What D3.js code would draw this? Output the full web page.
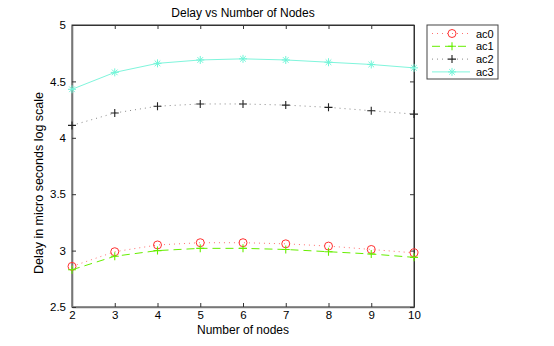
<!DOCTYPE html>
<html>
<head>
<meta charset="utf-8">
<script src="https://cdn.jsdelivr.net/npm/d3@7"></script>
<style>
  body { margin: 0; background: #fff; }
  svg { font-family: "Liberation Sans", Arial, sans-serif; }
</style>
</head>
<body>
<div class="chart"></div>
<script>
// Data
const nodes = [2, 3, 4, 5, 6, 7, 8, 9, 10];
const ac0 = [2.86, 2.99, 3.05, 3.07, 3.07, 3.06, 3.04, 3.01, 2.98];
const ac1 = [2.83, 2.95, 3.00, 3.02, 3.02, 3.01, 2.99, 2.97, 2.94];
const ac2 = [4.11, 4.22, 4.28, 4.30, 4.30, 4.29, 4.27, 4.24, 4.21];
const ac3 = [4.43, 4.58, 4.66, 4.69, 4.70, 4.69, 4.67, 4.65, 4.62];
const seriesNames = ["ac0", "ac1", "ac2", "ac3"];
const yTicks = [2.5, 3, 3.5, 4, 4.5, 5];

const width = 554, height = 346;
const margin = {top: 25, left: 72, right: 140, bottom: 39};

// line colour is a bit lighter than the marker colour for the dotted ones
const series = [
  {name: seriesNames[0], values: ac0, color: "#ff3030", lineColor: "#ff7070", dash: "1,4", marker: "circle"},
  {name: seriesNames[1], values: ac1, color: "#66ee00", lineColor: "#66ee00", dash: "8,5", marker: "plus"},
  {name: seriesNames[2], values: ac2, color: "#222", lineColor: "#888", dash: "1,4", marker: "plus"},
  {name: seriesNames[3], values: ac3, color: "#70f5d8", lineColor: "#80f5dc", dash: null, marker: "star"}
];

const svg = d3.select(".chart").append("svg")
  .attr("width", width).attr("height", height);

const x = d3.scaleLinear().domain([2, 10]).range([margin.left, width - margin.right]);
const y = d3.scaleLinear().domain([2.5, 5]).range([height - margin.bottom, margin.top]);

// box
svg.append("rect")
  .attr("x", x(2)).attr("y", y(5))
  .attr("width", x(10) - x(2)).attr("height", y(2.5) - y(5))
  .attr("fill", "none").attr("stroke", "#333").attr("stroke-width", 1);

// axes (inner ticks MATLAB-style)
const xAxis = d3.axisBottom(x).tickValues(nodes).tickSizeInner(-4).tickSizeOuter(0).tickPadding(4);
const xAxisTop = d3.axisTop(x).tickValues(nodes).tickSizeInner(-4).tickSizeOuter(0).tickFormat("");
const yAxis = d3.axisLeft(y).tickValues(yTicks).tickSizeInner(-4).tickSizeOuter(0).tickPadding(6).tickFormat(d3.format("~g"));
const yAxisRight = d3.axisRight(y).tickValues(yTicks).tickSizeInner(-4).tickSizeOuter(0).tickFormat("");

function styleAxis(g, main) {
  g.select(".domain").attr("stroke", main ? "#777" : "#333").attr("stroke-width", main ? 1.6 : 1);
  g.selectAll(".tick line").attr("stroke", "#333");
  g.selectAll(".tick text").attr("fill", "#000").style("font-size", "11.5px")
    .style("font-family", "Liberation Sans, Arial, sans-serif");
}

svg.append("g").attr("transform", `translate(0,${y(2.5)})`).call(xAxis).call(styleAxis, true);
svg.append("g").attr("transform", `translate(0,${y(5)})`).call(xAxisTop).call(styleAxis, false);
svg.append("g").attr("transform", `translate(${x(2)},0)`).call(yAxis).call(styleAxis, true);
svg.append("g").attr("transform", `translate(${x(10)},0)`).call(yAxisRight).call(styleAxis, false);

// markers
function drawMarker(g, type, cx, cy, color) {
  if (type === "circle") {
    g.append("circle").attr("cx", cx).attr("cy", cy).attr("r", 4)
      .attr("fill", "none").attr("stroke", color).attr("stroke-width", 1);
  } else if (type === "plus") {
    g.append("path").attr("d", `M${cx - 4},${cy}H${cx + 4}M${cx},${cy - 4}V${cy + 4}`)
      .attr("stroke", color).attr("stroke-width", 1.1);
  } else {
    const r = 4, d = r * 0.7;
    g.append("path")
      .attr("d", `M${cx - r},${cy}H${cx + r}M${cx},${cy - r}V${cy + r}M${cx - d},${cy - d}L${cx + d},${cy + d}M${cx - d},${cy + d}L${cx + d},${cy - d}`)
      .attr("stroke", color).attr("stroke-width", 1);
  }
}

const line = d3.line().x((d, i) => x(nodes[i])).y(d => y(d));

series.forEach(s => {
  const g = svg.append("g");
  g.append("path").datum(s.values)
    .attr("d", line).attr("fill", "none")
    .attr("stroke", s.lineColor).attr("stroke-width", 1)
    .attr("stroke-dasharray", s.dash);
  s.values.forEach((v, i) => drawMarker(g, s.marker, x(nodes[i]), y(v), s.color));
});

// title and labels
svg.append("text").attr("x", (x(2) + x(10)) / 2).attr("y", 17)
  .attr("text-anchor", "middle").style("font-size", "12px").text("Delay vs Number of Nodes");
svg.append("text").attr("x", (x(2) + x(10)) / 2).attr("y", 334)
  .attr("text-anchor", "middle").style("font-size", "12px").text("Number of nodes");
svg.append("text")
  .attr("transform", "translate(43,183) rotate(-90)")
  .attr("text-anchor", "middle").style("font-size", "12.5px").text("Delay in micro seconds log scale");

// legend
const lg = svg.append("g");
lg.append("rect").attr("x", 427).attr("y", 25).attr("width", 71).attr("height", 54)
  .attr("fill", "#fff").attr("stroke", "#444");
series.forEach((s, i) => {
  const ly = 33.5 + i * 12.8;
  lg.append("line").attr("x1", 432).attr("x2", 470).attr("y1", ly).attr("y2", ly)
    .attr("stroke", s.lineColor).attr("stroke-dasharray", s.dash);
  drawMarker(lg, s.marker, 452, ly, s.color);
  lg.append("text").attr("x", 476).attr("y", ly + 4).style("font-size", "11px").text(s.name);
});
</script>
</body>
</html>
